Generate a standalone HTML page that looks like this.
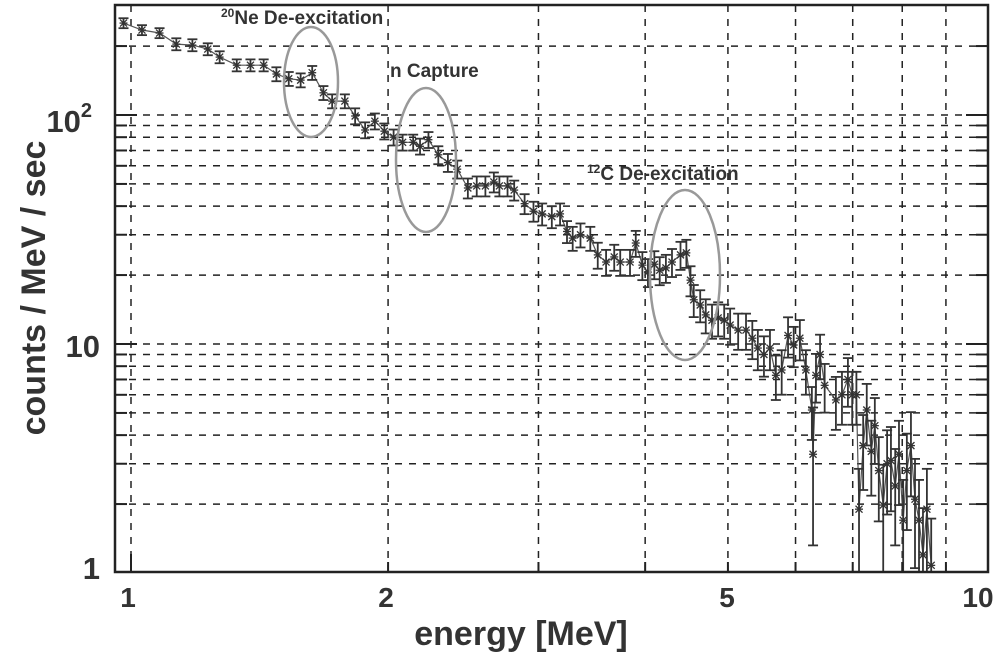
<!DOCTYPE html>
<html><head><meta charset="utf-8"><style>
html,body{margin:0;padding:0;background:#fff;}
svg{display:block;font-family:"Liberation Sans",Arial,sans-serif;}
</style></head><body>
<svg id="chart" width="1000" height="654" viewBox="0 0 1000 654" xmlns="http://www.w3.org/2000/svg">
<g id="grid"></g>
<g id="data"></g>
<rect x="115" y="5" width="873" height="567" fill="none" stroke="#222" stroke-width="2.5"/>
<g id="ticks"></g>
<g fill="none" stroke="#999" stroke-width="2.5">
<ellipse cx="311" cy="82" rx="27" ry="55"/>
<ellipse cx="426" cy="160" rx="30" ry="72"/>
<ellipse cx="685" cy="275" rx="35" ry="85"/>
</g>
<text x="221" y="24" font-size="19" font-weight="bold" fill="#333"><tspan font-size="12" dy="-7">20</tspan><tspan dy="7">Ne De-excitation</tspan></text>
<text x="390" y="77" font-size="19" font-weight="bold" fill="#333">n Capture</text>
<text x="587" y="180" font-size="19" font-weight="bold" fill="#333"><tspan font-size="12" dy="-7">12</tspan><tspan dy="7">C De-excitation</tspan></text>
<g font-size="31" font-weight="bold" fill="#333" text-anchor="end">
<text x="92" y="132">10<tspan font-size="20" dy="-15">2</tspan></text>
<text x="100" y="357">10</text>
<text x="100" y="579">1</text>
</g>
<g font-size="28" font-weight="bold" fill="#333" text-anchor="middle">
<text x="128" y="607">1</text>
<text x="386" y="607">2</text>
<text x="727" y="607">5</text>
<text x="978" y="607">10</text>
</g>
<text x="521" y="645" font-size="34" font-weight="bold" fill="#333" text-anchor="middle">energy [MeV]</text>
<text transform="translate(45,288) rotate(-90)" font-size="34" font-weight="bold" fill="#333" text-anchor="middle">counts / MeV / sec</text>
</svg>
<script>
const energies=[0.98,1.03,1.08,1.13,1.18,1.23,1.27,1.33,1.38,1.43,1.48,1.53,1.58,1.63,1.68,1.72,1.78,1.83,1.88,1.93,1.98,2.03,2.08,2.14,2.18,2.23,2.29,2.35,2.41,2.48,2.54,2.60,2.66,2.70,2.76,2.81,2.89,2.96,3.03,3.11,3.18,3.24,3.29,3.36,3.45,3.52,3.60,3.68,3.74,3.84,3.90,3.97,4.03,4.10,4.16,4.23,4.30,4.40,4.47,4.52,4.56,4.64,4.71,4.79,4.87,4.95,5.03,5.14,5.25,5.34,5.42,5.51,5.60,5.69,5.78,5.88,5.97,6.07,6.17,6.27,6.29,6.34,6.41,6.49,6.69,6.80,6.91,6.99,7.07,7.12,7.20,7.27,7.36,7.43,7.51,7.60,7.68,7.76,7.85,7.93,8.02,8.10,8.19,8.28,8.37,8.46,8.55,8.65];
const counts=[252,235,228,204,202,194,179,165,165,165,151,144,142,153,125,115,115,99,86,94,85,80,76,76,73,78,67,62,58,48,49,49,51,49,49,47,41,38,37,36,37,31,29,30,29,24.5,22.8,24,22.8,22.8,27.6,22.1,20.6,22.3,21,21.5,22.8,24.5,25,19,15.6,14.8,13.4,12.7,13,12.7,12.1,11.5,11.5,10.6,9.6,9.0,9.6,7.3,7.7,10.9,9.9,10.6,7.7,5.15,3.3,7.3,9.0,6.6,5.7,6.0,7.0,6.0,6.0,1.9,3.6,5.15,3.4,4.4,2.8,1.98,3.0,3.1,2.4,3.3,1.7,2.8,3.6,2.1,1.7,1.2,1.9,1.08];
const relErr=[0.05,0.05,0.05,0.06,0.06,0.06,0.06,0.06,0.06,0.06,0.07,0.07,0.07,0.07,0.07,0.07,0.07,0.08,0.08,0.08,0.08,0.08,0.08,0.08,0.08,0.08,0.09,0.09,0.09,0.1,0.1,0.1,0.1,0.1,0.1,0.1,0.1,0.1,0.11,0.11,0.11,0.11,0.12,0.12,0.12,0.13,0.13,0.13,0.13,0.13,0.13,0.14,0.14,0.14,0.14,0.14,0.14,0.14,0.14,0.15,0.16,0.16,0.17,0.17,0.17,0.17,0.18,0.18,0.18,0.19,0.2,0.2,0.2,0.22,0.22,0.2,0.2,0.2,0.22,0.26,0.6,0.24,0.22,0.24,0.26,0.26,0.24,0.26,0.26,0.5,0.36,0.3,0.36,0.32,0.4,0.5,0.4,0.4,0.45,0.4,0.5,0.45,0.4,0.5,0.5,0.6,0.5,0.6];
const xTicks=[1,2,3,4,5,6,7,8,9];
const yGrid=[2,3,4,5,6,7,8,9,10,20,30,40,50,60,70,80,90,100,200];
const NS='http://www.w3.org/2000/svg';
const X=e=>131+854*Math.log10(e);
const Y=v=>573-229*Math.log10(v);
const PT=5,PB=572,PL=115,PR=988;
function mk(tag,attrs,parent){const el=document.createElementNS(NS,tag);for(const k in attrs)el.setAttribute(k,attrs[k]);parent.appendChild(el);return el;}
const grid=document.getElementById('grid'),ticks=document.getElementById('ticks'),data=document.getElementById('data');
xTicks.forEach(t=>{
  const l=mk('line',{x1:X(t),x2:X(t),y1:PT,y2:PB,stroke:'#222','stroke-width':1.5,'stroke-dasharray':'7,7'},grid);
  
  
  const tk=mk('line',{x1:X(t),x2:X(t),y1:PB,y2:PB-(t===1?18:10),stroke:'#222','stroke-width':2},ticks);
  
  
});
yGrid.forEach(t=>{
  const l=mk('line',{x1:PL,x2:PR,y1:Y(t),y2:Y(t),stroke:'#222','stroke-width':1.5,'stroke-dasharray':'7,7'},grid);
  
  
  const big=(t===10||t===100);
  const a=mk('line',{x1:PL,x2:PL+(big?22:12),y1:Y(t),y2:Y(t),stroke:'#222','stroke-width':2},ticks);
  
  
  const b=mk('line',{x1:PR,x2:PR-(big?22:12),y1:Y(t),y2:Y(t),stroke:'#222','stroke-width':2},ticks);
  
  
});
const pts=energies.map((e,i)=>X(e).toFixed(1)+','+Y(counts[i]).toFixed(1)).join(' ');
const line=mk('polyline',{points:pts,fill:'none',stroke:'#555','stroke-width':1.2},data);


energies.forEach((e,i)=>{
  const x=X(e),v=counts[i],r=relErr[i];
  const lo=Math.max(v*(1-r),1.0),hi=v*(1+r);
  const g=mk('g',{stroke:'#333','stroke-width':1.8},data);
  
  
  const y0=Math.min(Y(lo),PB),y1=Y(hi);
  mk('line',{x1:x,x2:x,y1:y0,y2:y1},g);
  mk('line',{x1:x-5,x2:x+5,y1:y1,y2:y1},g);
  if(Y(lo)<PB) mk('line',{x1:x-5,x2:x+5,y1:y0,y2:y0},g);
  const y=Y(v);
  mk('line',{x1:x-3.5,x2:x+3.5,y1:y-3.5,y2:y+3.5,'stroke-width':1.3},g);
  mk('line',{x1:x-3.5,x2:x+3.5,y1:y+3.5,y2:y-3.5,'stroke-width':1.3},g);
  mk('line',{x1:x-4,x2:x+4,y1:y,y2:y,'stroke-width':1.3},g);
});
</script>
</body></html>
